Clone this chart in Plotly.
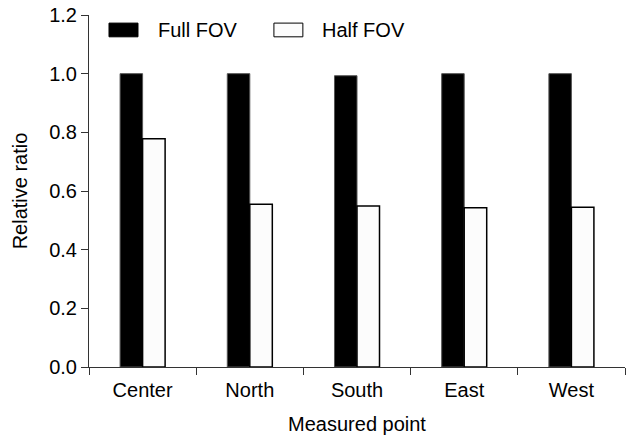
import plotly.graph_objects as go

categories = ["Center", "North", "South", "East", "West"]
full_fov = [1.0, 1.0, 0.993, 1.0, 1.0]
half_fov = [0.778, 0.555, 0.549, 0.543, 0.545]
series_names = ["Full FOV", "Half FOV"]
y_ticks = [0.0, 0.2, 0.4, 0.6, 0.8, 1.0, 1.2]

FONT = "Liberation Sans, Arial, sans-serif"
FS = 20

fig = go.Figure()
fig.add_trace(go.Bar(x=categories, y=full_fov, name=series_names[0],
                     marker=dict(color="black", line=dict(color="#555", width=1)),
                     showlegend=False))
fig.add_trace(go.Bar(x=categories, y=half_fov, name=series_names[1],
                     marker=dict(color="#fcfcfc", line=dict(color="black", width=1.5)),
                     showlegend=False))

# legend drawn as swatches + text
sw = [("black", series_names[0], 0.0373, 0.0914, 0.125),
      ("#fcfcfc", series_names[1], 0.345, 0.399, 0.431)]
for color, name, x0, x1, xt in sw:
    fig.add_shape(type="rect", xref="paper", yref="paper",
                  x0=x0, x1=x1, y0=0.938, y1=0.977,
                  fillcolor=color, line=dict(color="black", width=1))
    fig.add_annotation(xref="paper", yref="paper", x=xt, y=0.957,
                       text=name, showarrow=False, xanchor="left", yanchor="middle",
                       font=dict(family=FONT, size=FS, color="black"))

fig.update_layout(
    width=631, height=435,
    margin=dict(l=89, r=6, t=15, b=68, autoexpand=False),
    plot_bgcolor="white", paper_bgcolor="white",
    barmode="group", bargap=0.58, bargroupgap=0,
    font=dict(family=FONT, size=FS, color="black"),
)
fig.update_xaxes(
    showline=True, linecolor="#333", linewidth=1,
    ticks="outside", tickson="boundaries", ticklen=7, tickcolor="#333",
    ticklabelstandoff=5,
    showgrid=False, automargin=False,
    title=dict(text="Measured point", standoff=18, font=dict(family=FONT, size=FS)),
    tickfont=dict(family=FONT, size=FS),
)
fig.update_yaxes(
    range=[0, 1.2], tickvals=y_ticks, tickformat=".1f",
    showline=True, linecolor="#333", linewidth=1,
    ticks="outside", ticklen=7, tickcolor="#333",
    showgrid=False, zeroline=False, automargin=False,
    title=dict(text="Relative ratio", standoff=16, font=dict(family=FONT, size=FS)),
    tickfont=dict(family=FONT, size=FS),
)

fig.write_html("out.html", config={"displayModeBar": False},
               post_script="document.body.style.margin='0';")
